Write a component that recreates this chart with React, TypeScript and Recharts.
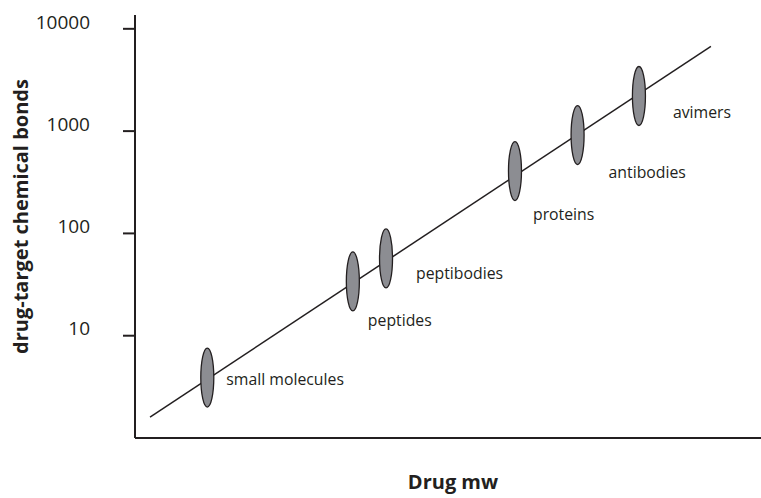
import { ComposedChart, XAxis, YAxis, Line, Scatter, Label } from "recharts"

// drug classes plotted as ellipses along the trend
const classes = ["small molecules", "peptides", "peptibodies", "proteins", "antibodies", "avimers"]
const classMw = [11.55, 34.8, 40.1, 60.7, 70.7, 80.5]
const classBonds = [3.9, 33.9, 56.9, 407, 915, 2204]

// trend line end points
const trendMw = [2.4, 92]
const trendBonds = [1.6, 6745]

const yTicks = [10, 100, 1000, 10000]

// where each class label sits relative to its ellipse (px)
const labelOffsets: Record<string, [number, number]> = {
  "small molecules": [19, 7],
  peptides: [15, 45],
  peptibodies: [30, 21],
  proteins: [18, 49],
  antibodies: [31, 43],
  avimers: [34, 22],
}

const ink = "#231f20"
const font = "'Open Sans', sans-serif"

const classData = classes.map((name, i) => ({ name, mw: classMw[i], bonds: classBonds[i] }))
const trendData = trendMw.map((mw, i) => ({ mw, bonds: trendBonds[i] }))

function EllipseMark(props: any) {
  const { cx, cy, payload } = props
  const [dx, dy] = labelOffsets[payload.name] || [20, 0]
  return (
    <g>
      <ellipse cx={cx} cy={cy} rx={6.5} ry={29.5} fill="#8c8d92" stroke={ink} strokeWidth={1.3} />
      <text x={cx + dx} y={cy + dy} fontSize={15.8} fill="#231f20" fontFamily={font}>
        {payload.name}
      </text>
    </g>
  )
}

export default function App() {
  return (
    <div style={{ width: 761, height: 498 }}>
      <style>{`body{margin:0}`}</style>
      <ComposedChart width={761} height={498} margin={{ top: 15, right: 0, bottom: 0, left: 0 }}>
        <XAxis
          type="number"
          dataKey="mw"
          domain={[0, 100]}
          allowDataOverflow
          tick={false}
          tickLine={false}
          height={60}
          axisLine={{ stroke: ink, strokeWidth: 2 }}
        >
          <Label
            value="Drug mw"
            position="insideBottom"
            offset={9}
            dx={5}
            style={{ fontFamily: font, fontWeight: 700, fontSize: 20, fill: ink }}
          />
        </XAxis>
        <YAxis
          type="number"
          dataKey="bonds"
          scale="log"
          domain={[1, 13650]}
          allowDataOverflow
          ticks={yTicks}
          width={135}
          tickSize={12}
          tickMargin={33}
          axisLine={{ stroke: ink, strokeWidth: 2 }}
          tickLine={{ stroke: ink, strokeWidth: 2 }}
          tick={{ fontFamily: font, fontSize: 19, fill: ink, dy: -7 }}
        >
          <Label
            value="drug-target chemical bonds"
            angle={-90}
            position="insideLeft"
            offset={21}
            dy={-10}
            style={{ fontFamily: font, fontWeight: 700, fontSize: 20, fill: ink, textAnchor: "middle" }}
          />
        </YAxis>
        <Line
          data={trendData}
          dataKey="bonds"
          stroke={ink}
          strokeWidth={1.5}
          dot={false}
          activeDot={false}
          isAnimationActive={false}
        />
        <Scatter data={classData} dataKey="bonds" shape={EllipseMark} isAnimationActive={false} />
      </ComposedChart>
    </div>
  )
}
